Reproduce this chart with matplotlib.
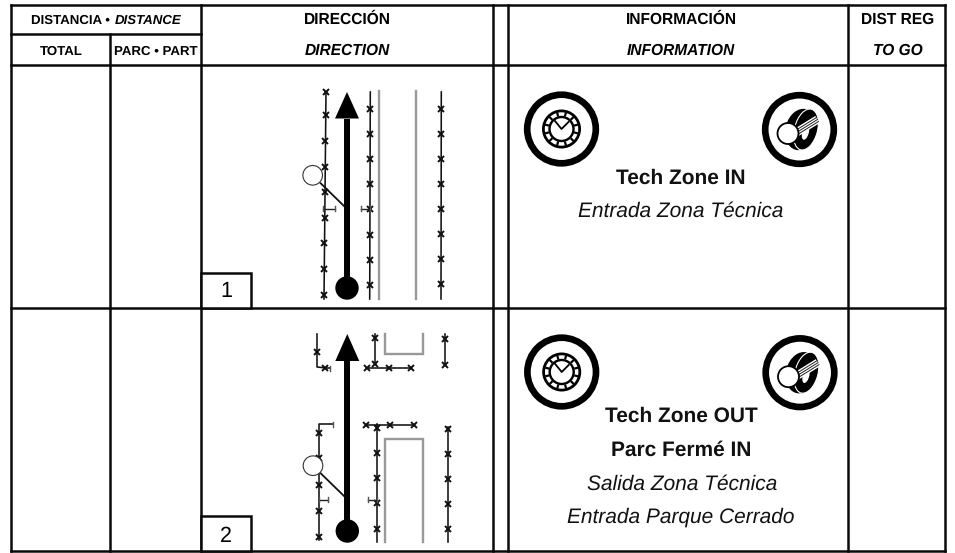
#!/usr/bin/env python3

import numpy as np
import matplotlib
matplotlib.use("Agg")
import matplotlib.pyplot as plt
from matplotlib.patches import Circle, Ellipse, Polygon, Rectangle

plt.rcParams['font.family'] = ['Liberation Sans', 'DejaVu Sans']
plt.rcParams['text.hinting'] = 'no_hinting'

W, H = 955, 553

# table grid, pixels
col_x = [11, 110, 201, 493, 508, 848, 945]
row_y = [5, 34, 65, 308, 551]

header_top = [("DIRECCIÓN", 347), ("INFORMACIÓN", 681), ("DIST REG", 898)]
header_bottom = [("DIRECTION", 347), ("INFORMATION", 681), ("TO GO", 898)]

# first row of the roadbook
fence_a1 = [(326, 92), (324, 299)]
fence_a1_x = [326, 325.7, 325.3, 325, 325, 324.7, 324.3, 324, 323.7]
fence_a1_y = [92, 115, 141, 167, 192, 218, 243, 269, 295]
fence_b1 = [(370.3, 92), (369.7, 299)]
fence_b1_y = [109, 134, 159, 184, 209, 235, 260, 285]
fence_c1 = [(441.3, 92), (441, 299)]
fence_c1_y = [109, 134, 159, 184, 209, 234, 259, 284]
grey_1 = [[(379, 91), (379, 299)], [(416.3, 91), (416.3, 299)]]

# second row
fences_2 = [
    [(317, 334), (317, 367), (326, 368), (330, 368)],
    [(375, 334), (375, 364)],
    [(367, 367.5), (411, 367.5)],
    [(445, 334), (445, 365)],
    [(332.5, 424), (319, 424), (319, 540)],
    [(366, 424.5), (414, 424.5)],
    [(376.7, 424), (376.7, 542)],
    [(447.7, 427), (447.7, 542)],
]
fence_x_2 = [317, 325, 375, 375, 367, 389, 411, 445, 445,
             319, 319, 319, 319, 319, 366, 390, 414,
             376.7, 376.7, 376.7, 376.7, 376.7,
             447.7, 447.7, 447.7, 447.7, 447.7]
fence_y_2 = [352, 368, 338, 364, 368, 368, 368, 339, 365,
             433, 458, 485, 511, 537, 424.5, 424.5, 425,
             428, 453, 478, 503, 529,
             429, 454, 479, 504, 529]
grey_2 = [[(385, 334), (385, 354), (422.7, 354), (422.7, 334)],
          [(385, 542), (385, 438.5), (422.7, 438.5), (422.7, 542)]]

# (arrow x, tip y, head base y, ball y)
arrows = [(347, 92, 118.5, 288), (347.3, 334, 361, 531)]
# (circle x, y, leader start, leader end)
lookouts = [(312.7, 175.3, (320.7, 183.3), (344, 206)),
            (313, 465.7, (320.7, 473.3), (344, 496))]
gates = [[(323, 335, 208.7), (361, 370, 208.7)],
         [(318.5, 327.5, 499.7), (367.5, 376.5, 499.7)]]
cap_ends = [(332.5, 424), (330, 368)]

step_boxes = [(201, 251, 273, 308, 297, "1"), (201, 251, 516, 551, 541.5, "2")]

clock_icons = [(561.5, 129), (561.7, 372)]
tyre_icons = [(799.5, 129.5), (800, 372.7)]

info_lines = [
    ("Tech Zone IN", 680.5, 184, True),
    ("Entrada Zona Técnica", 681, 216.5, False),
    ("Tech Zone OUT", 681, 422, True),
    ("Parc Fermé IN", 680.8, 456, True),
    ("Salida Zona Técnica", 681.7, 489.5, False),
    ("Entrada Parque Cerrado", 681, 523, False),
]


def draw_grid(ax):
    lw = 1.8
    c = "#0a0a0a"
    for x in col_x:
        y0 = row_y[1] if x == col_x[1] else row_y[0]
        ax.plot([x, x], [y0, row_y[-1]], color=c, lw=lw, solid_capstyle="projecting")
    for y in [row_y[0], row_y[2], row_y[3], row_y[4]]:
        ax.plot([col_x[0], col_x[-1]], [y, y], color=c, lw=lw, solid_capstyle="projecting")
    ax.plot([col_x[0], col_x[2]], [row_y[1], row_y[1]], color=c, lw=lw)


def draw_header(ax):
    y1, y2 = 24, 55
    ax.text(30.6, y1, "DISTANCIA •", fontsize=9.5, fontweight="bold", ha="left", va="baseline")
    ax.text(115, y1, "DISTANCE", fontsize=9.5, fontweight="bold", style="italic", ha="left", va="baseline")
    ax.text(61, y2, "TOTAL", fontsize=9.5, fontweight="bold", ha="center", va="baseline")
    ax.text(156, y2, "PARC • PART", fontsize=9.5, fontweight="bold", ha="center", va="baseline")
    for label, x in header_top:
        ax.text(x, y1, label, fontsize=11.2, fontweight="bold", ha="center", va="baseline")
    for label, x in header_bottom:
        ax.text(x, y2, label, fontsize=11.2, fontweight="bold", style="italic", ha="center", va="baseline")


def fence(ax, pts):
    xs, ys = zip(*pts)
    ax.plot(xs, ys, color="#111111", lw=1.15, zorder=3)


def crosses(ax, xs, ys):
    ax.plot(xs, ys, ls="none", marker="x", ms=4.0, mew=1.4, color="#111111", zorder=4)


def draw_arrow(ax, x, tip, base, ball):
    ax.plot([x, x], [base, ball], color="black", lw=4.3, solid_capstyle="butt", zorder=5)
    ax.add_patch(Polygon([(x, tip), (x - 12, base), (x + 12, base)], fc="black", ec="none", zorder=5))
    ax.add_patch(Circle((x, ball), 11.7, fc="black", ec="none", zorder=5))


def draw_lookout(ax, x, y, start, end):
    ax.plot([start[0], end[0]], [start[1], end[1]], color="#111111", lw=1.3, zorder=4)
    ax.add_patch(Circle((x, y), 9.8, fc="white", ec="#333333", lw=0.8, zorder=6))


def draw_gate(ax, x0, x1, y):
    ax.plot([x0, x1], [y, y], color="#222222", lw=1.0, zorder=4)
    for x in (x0, x1):
        ax.plot([x, x], [y - 2.5, y + 2.5], color="#555555", lw=1.0, zorder=4)


def draw_clock(ax, cx, cy):
    ax.add_patch(Circle((cx, cy), 34.3, fc="white", ec="black", lw=4.8, zorder=3))
    ax.add_patch(Circle((cx, cy), 19.5, fc="black", ec="none", zorder=3))
    ax.add_patch(Circle((cx, cy), 16.7, fc="white", ec="none", zorder=3))
    ax.add_patch(Circle((cx, cy), 13.2, fc="black", ec="none", zorder=3))
    ax.add_patch(Circle((cx, cy), 10.8, fc="white", ec="none", zorder=3))
    for a in np.arange(0, 360, 30):
        r = np.deg2rad(a + 15)
        ax.plot([cx + 13 * np.cos(r), cx + 17 * np.cos(r)],
                [cy + 13 * np.sin(r), cy + 17 * np.sin(r)], color="black", lw=1.6, zorder=3,
                solid_capstyle="butt")
    ax.plot([cx - 6.5, cx, cx + 7], [cy - 8, cy, cy - 7], color="black", lw=1.3, zorder=4)


def draw_tyre(ax, cx, cy):
    ax.add_patch(Circle((cx, cy), 34.3, fc="white", ec="black", lw=4.8, zorder=3))
    ax.add_patch(Ellipse((cx + 1.5, cy), 31, 42, angle=15, fc="black", ec="none", zorder=3))
    ax.add_patch(Ellipse((cx + 6.5, cy), 23, 42, angle=15, fc="black", ec="white", lw=0.8, zorder=3))
    ax.add_patch(Ellipse((cx + 6, cy + 3), 6.5, 15, angle=15, fc="white", ec="none", zorder=3))
    ax.plot([cx - 3, cx + 18], [cy + 3, cy - 10], color="white", lw=6, solid_capstyle="butt", zorder=4)
    for off in (-2, 0, 2):
        ax.plot([cx - 3 + off * 0.5, cx + 18 + off * 0.5], [cy + 3 + off, cy - 10 + off],
                color="#222222", lw=0.7, zorder=4)
    ax.add_patch(Circle((cx - 11.5, cy + 4), 10.5, fc="white", ec="black", lw=1.3, zorder=5))


def main():
    fig = plt.figure(figsize=(W / 100, H / 100), dpi=100)
    ax = fig.add_axes([0, 0, 1, 1])
    ax.set_xlim(0, W)
    ax.set_ylim(H, 0)
    ax.axis("off")

    draw_grid(ax)
    draw_header(ax)

    fence(ax, fence_a1)
    fence(ax, fence_b1)
    fence(ax, fence_c1)
    crosses(ax, fence_a1_x, fence_a1_y)
    crosses(ax, [370] * len(fence_b1_y), fence_b1_y)
    crosses(ax, [441] * len(fence_c1_y), fence_c1_y)
    for pts in grey_1 + grey_2:
        xs, ys = zip(*pts)
        ax.plot(xs, ys, color="#999999", lw=1.7, zorder=3, solid_joinstyle="miter")
    for pts in fences_2:
        fence(ax, pts)
    crosses(ax, fence_x_2, fence_y_2)
    for x, y in cap_ends:
        ax.plot([x, x], [y - 2.5, y + 2.5], color="#555555", lw=1.0, zorder=4)

    for row in gates:
        for x0, x1, y in row:
            draw_gate(ax, x0, x1, y)
    for a in arrows:
        draw_arrow(ax, *a)
    for l in lookouts:
        draw_lookout(ax, *l)

    for x0, x1, y0, y1, base, label in step_boxes:
        ax.add_patch(Rectangle((x0, y0), x1 - x0, y1 - y0, fc="white", ec="#0a0a0a", lw=1.8, zorder=7))
        ax.text((x0 + x1) / 2, base, label, fontsize=15.5, ha="center", va="baseline", zorder=8)

    for c in clock_icons:
        draw_clock(ax, *c)
    for c in tyre_icons:
        draw_tyre(ax, *c)

    for label, x, y, bold in info_lines:
        ax.text(x, y, label, fontsize=15, ha="center", va="baseline", color="#111111",
                fontweight="bold" if bold else "normal", style="normal" if bold else "italic", zorder=8)

    fig.savefig("out.png", dpi=100)


if __name__ == "__main__":
    main()
